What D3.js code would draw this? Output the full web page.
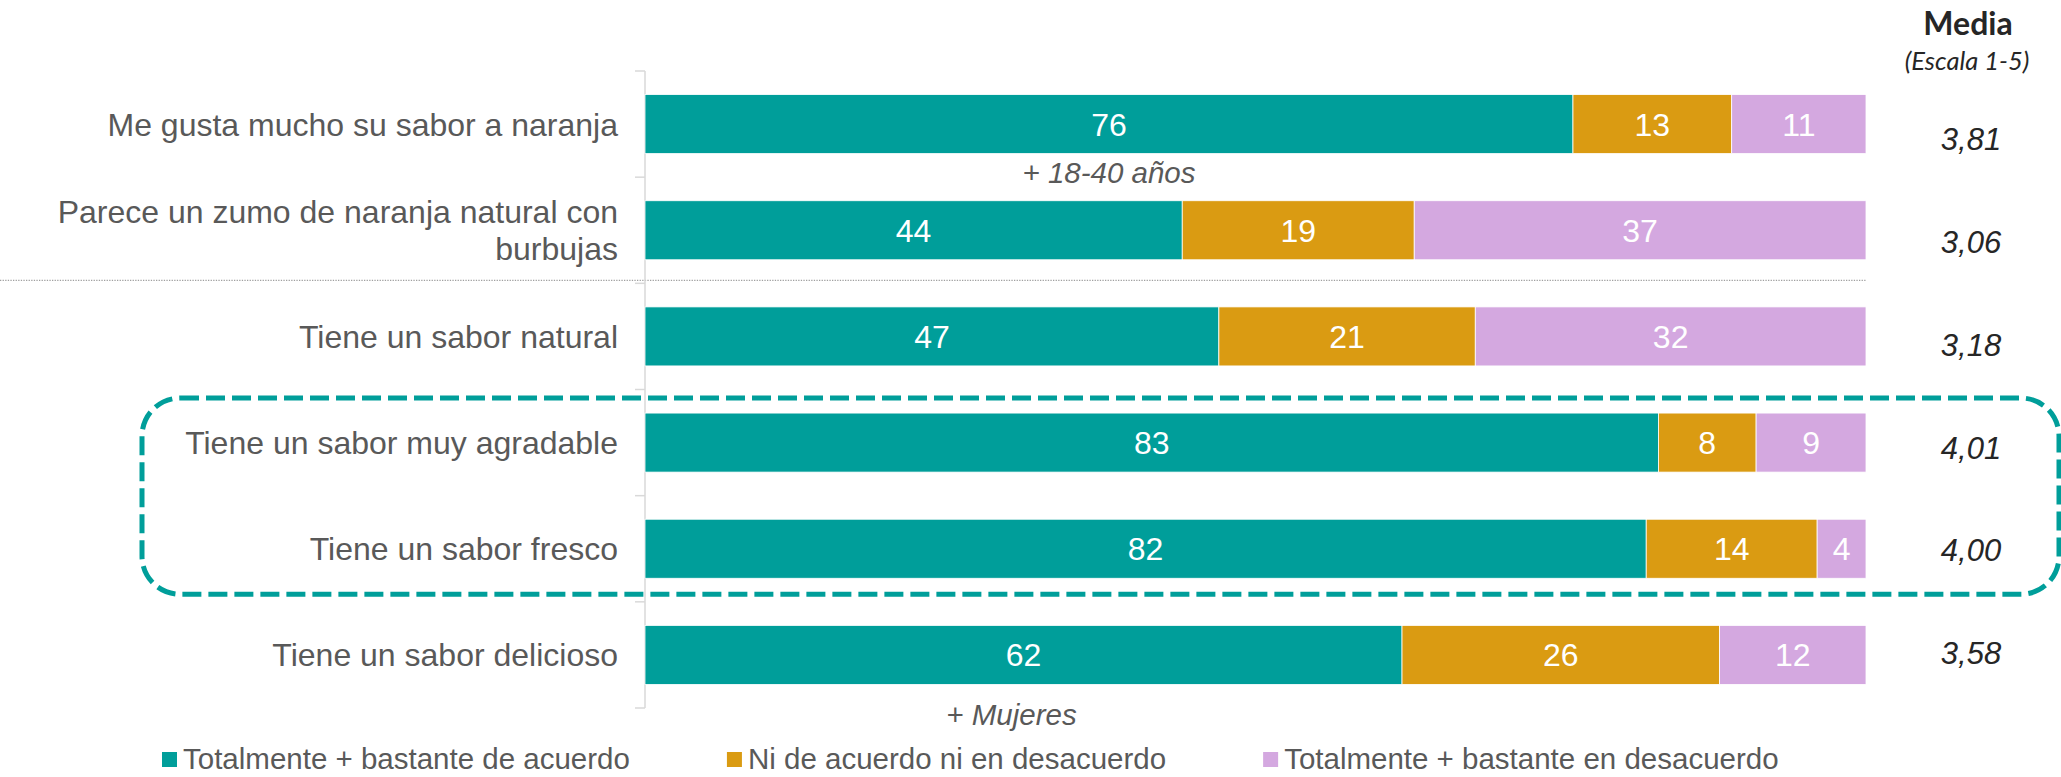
<!DOCTYPE html>
<html>
<head>
<meta charset="utf-8">
<script src="https://cdn.jsdelivr.net/npm/d3@7"></script>
<style>
  html, body { margin: 0; padding: 0; background: #fff; }
  svg { display: block; }
</style>
</head>
<body>
<svg id="chart" width="2061" height="777"></svg>
<script>
// ---- Data ----
const categories = [
  "Me gusta mucho su sabor a naranja",
  "Parece un zumo de naranja natural con|burbujas",
  "Tiene un sabor natural",
  "Tiene un sabor muy agradable",
  "Tiene un sabor fresco",
  "Tiene un sabor delicioso"
];
const seriesNames = [
  "Totalmente + bastante de acuerdo",
  "Ni de acuerdo ni en desacuerdo",
  "Totalmente + bastante en desacuerdo"
];
const acuerdo     = [76, 44, 47, 83, 82, 62];
const neutral     = [13, 19, 21, 8, 14, 26];
const desacuerdo  = [11, 37, 32, 9, 4, 12];
const medias      = ["3,81", "3,06", "3,18", "4,01", "4,00", "3,58"];
const annotations = [
  { cat: 0, text: "+ 18-40 años" },
  { cat: 5, text: "+ Mujeres" }
];
const highlighted = [3, 4];
const mediaTitle = "Media";
const mediaSubtitle = "(Escala 1-5)";

// ---- Styles ----
const colors = ["#009E9A", "#DA9B12", "#D4A8E0"];
const textGray = "#595959";
const font = "'Liberation Sans', Arial, sans-serif";

const svg = d3.select("#chart");

const x = d3.scaleLinear().domain([0, 100]).range([645, 1866]);
const y = d3.scaleBand().domain(d3.range(categories.length))
  .range([71, 708]).paddingInner(0.444).paddingOuter(0.222);
const yMedia = d3.scalePoint().domain(d3.range(categories.length)).range([139, 653]);

const seriesData = [acuerdo, neutral, desacuerdo];
const rows = categories.map((c, i) => {
  let acc = 0;
  return seriesData.map((s, k) => {
    const seg = { i, k, x0: acc, x1: acc + s[i], v: s[i] };
    acc += s[i];
    return seg;
  });
});

// dashed highlight box (behind)
const hb0 = y(highlighted[0]), hb1 = y(highlighted[highlighted.length - 1]) + y.bandwidth();
svg.append("rect")
  .attr("x", 142).attr("y", hb0 - 15)
  .attr("width", 2059 - 142).attr("height", (hb1 + 16) - (hb0 - 15))
  .attr("rx", 38).attr("ry", 38)
  .attr("fill", "none").attr("stroke", colors[0])
  .attr("stroke-width", 5).attr("stroke-dasharray", "19,7");

// dotted separator between row 2 and 3
const sepY = y(2) - (y.step() - y.bandwidth()) / 2 - 3;
svg.append("line")
  .attr("x1", 0).attr("x2", x(100))
  .attr("y1", sepY).attr("y2", sepY)
  .attr("stroke", "#a0a0a0").attr("stroke-width", 1.3)
  .attr("stroke-dasharray", "1.3,1.3");

// axis line and ticks
const axisG = svg.append("g");
axisG.append("line")
  .attr("x1", x(0)).attr("x2", x(0))
  .attr("y1", y.range()[0]).attr("y2", y.range()[1])
  .attr("stroke", "#d9d9d9").attr("stroke-width", 1.5);
d3.range(categories.length + 1).forEach(j => {
  const ty = y.range()[0] + j * y.step();
  axisG.append("line")
    .attr("x1", x(0) - 10).attr("x2", x(0))
    .attr("y1", ty).attr("y2", ty)
    .attr("stroke", "#d9d9d9").attr("stroke-width", 1.5);
});

// bars
const barG = svg.append("g");
rows.forEach(r => {
  r.forEach(seg => {
    barG.append("rect")
      .attr("x", x(seg.x0)).attr("y", y(seg.i))
      .attr("width", x(seg.x1) - x(seg.x0)).attr("height", y.bandwidth())
      .attr("fill", colors[seg.k])
      .attr("stroke", "#ffffff").attr("stroke-width", 0.8);
    barG.append("text")
      .attr("x", (x(seg.x0) + x(seg.x1)) / 2)
      .attr("y", y(seg.i) + y.bandwidth() / 2)
      .attr("dy", "0.36em")
      .attr("text-anchor", "middle")
      .attr("font-family", font).attr("font-size", 32)
      .attr("fill", "#ffffff")
      .text(seg.v);
  });
});

// category labels
categories.forEach((c, i) => {
  const lines = c.split("|");
  const cy = y(i) + y.bandwidth() / 2;
  const lh = 37;
  const t = svg.append("text")
    .attr("text-anchor", "end")
    .attr("font-family", font).attr("font-size", 32)
    .attr("fill", textGray);
  lines.forEach((ln, j) => {
    t.append("tspan")
      .attr("x", 618)
      .attr("y", cy + (j - (lines.length - 1) / 2) * lh)
      .attr("dy", "0.36em")
      .text(ln);
  });
});

// annotations
annotations.forEach((a, n) => {
  const seg = rows[a.cat][0];
  const off = n === 0 ? 29 : 41;
  const dx = n === 0 ? 0 : -12;
  svg.append("text")
    .attr("x", (x(seg.x0) + x(seg.x1)) / 2 + dx)
    .attr("y", y(a.cat) + y.bandwidth() + off)
    .attr("text-anchor", "middle")
    .attr("font-family", font).attr("font-size", 29.5)
    .attr("font-style", "italic")
    .attr("fill", textGray)
    .text(a.text);
});

// media column
const mediaX = 1970;
svg.append("text")
  .attr("x", mediaX - 2).attr("y", 35)
  .attr("text-anchor", "middle")
  .attr("font-family", "Lato, 'Open Sans', sans-serif")
  .attr("font-weight", "bold").attr("font-size", 32)
  .attr("fill", "#262626")
  .text(mediaTitle);
svg.append("text")
  .attr("x", mediaX - 3).attr("y", 70)
  .attr("text-anchor", "middle")
  .attr("font-family", "Lato, 'Open Sans', sans-serif")
  .attr("font-style", "italic").attr("font-size", 25.5)
  .attr("fill", "#262626")
  .text(mediaSubtitle);
medias.forEach((m, i) => {
  svg.append("text")
    .attr("x", mediaX + 1).attr("y", yMedia(i))
    .attr("dy", "0.36em")
    .attr("text-anchor", "middle")
    .attr("font-family", font).attr("font-size", 31)
    .attr("font-style", "italic")
    .attr("fill", "#262626")
    .text(m);
});

// legend
const legendG = svg.append("g");
let lx = 162;
const ly = 758;
seriesNames.forEach((s, k) => {
  legendG.append("rect")
    .attr("x", lx).attr("y", ly - 6)
    .attr("width", 15).attr("height", 15)
    .attr("fill", colors[k]);
  const t = legendG.append("text")
    .attr("x", lx + 21).attr("y", ly)
    .attr("dy", "0.36em")
    .attr("font-family", font).attr("font-size", 29.5)
    .attr("fill", textGray)
    .text(s);
  lx = lx + 21 + t.node().getComputedTextLength() + 97;
});
</script>
</body>
</html>
